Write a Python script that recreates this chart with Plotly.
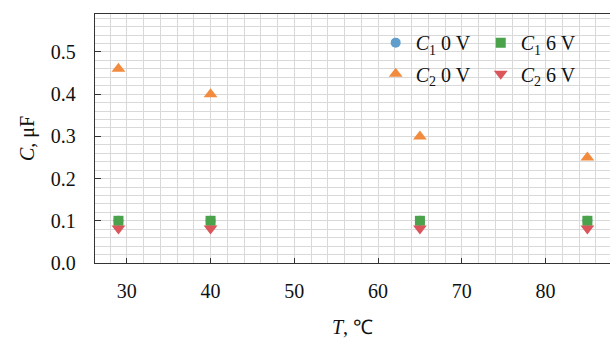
import plotly.graph_objects as go

# Temperature points, °C
temperature = [29, 40, 65, 85]

# Capacitance, µF
c1_0v = [0.10, 0.10, 0.10, 0.10]
c2_0v = [0.46, 0.40, 0.30, 0.25]
c1_6v = [0.10, 0.10, 0.10, 0.10]
c2_6v = [0.082, 0.082, 0.082, 0.082]

x_ticks = [30, 40, 50, 60, 70, 80]
y_ticks = [0.0, 0.1, 0.2, 0.3, 0.4, 0.5]

FONT = "Liberation Serif"
SPINE = "#333333"
GRID = "#d9d9d9"

series = [
    ("<i>C</i><sub>1</sub> 0 V", c1_0v, "circle", 10, "#5f9dcc", "legend"),
    ("<i>C</i><sub>2</sub> 0 V", c2_0v, "triangle-up", 12, "#f28b3d", "legend2"),
    ("<i>C</i><sub>1</sub> 6 V", c1_6v, "square", 10, "#4aa24a", "legend3"),
    ("<i>C</i><sub>2</sub> 6 V", c2_6v, "triangle-down", 12, "#da565a", "legend4"),
]

fig = go.Figure()
for name, vals, sym, size, color, leg in series:
    fig.add_trace(go.Scatter(
        x=temperature, y=vals, mode="markers", name=name, legend=leg,
        marker=dict(symbol=sym, size=size, color=color, line=dict(width=0)),
    ))

legend_style = dict(
    bgcolor="rgba(0,0,0,0)", font=dict(family=FONT, size=20, color="#111"),
    xanchor="left", yanchor="middle", itemclick=False, borderwidth=0,
)

fig.update_layout(
    width=610, height=340,
    margin=dict(l=95, r=0, t=14, b=77),
    plot_bgcolor="white", paper_bgcolor="white",
    font=dict(family=FONT, size=20, color="#111"),
    showlegend=True,
    legend=dict(x=0.545, y=0.885, **legend_style),
    legend2=dict(x=0.545, y=0.76, **legend_style),
    legend3=dict(x=0.749, y=0.885, **legend_style),
    legend4=dict(x=0.749, y=0.76, **legend_style),
    xaxis=dict(
        range=[26.2, 87.7], tickvals=x_ticks, ticks="inside", ticklen=5,
        tickwidth=1.3, tickcolor=SPINE, showline=True, linecolor=SPINE,
        linewidth=1.3, mirror=True, showgrid=True, gridcolor=GRID, gridwidth=1.2,
        zeroline=False, ticklabelstandoff=10,
        tickfont=dict(family=FONT, size=20, color="#111"),
        minor=dict(dtick=2, tick0=0, showgrid=True, gridcolor=GRID, gridwidth=1.2),
        title=dict(text="<i>T</i>, ℃", font=dict(family=FONT, size=20), standoff=18),
    ),
    yaxis=dict(
        range=[0, 0.59], tickvals=y_ticks, tickformat=".1f", ticks="inside",
        ticklen=6, tickwidth=1.3, tickcolor=SPINE, showline=True,
        linecolor=SPINE, linewidth=1.3, mirror=True, showgrid=True,
        gridcolor=GRID, gridwidth=1.2, zeroline=False, ticklabelstandoff=14,
        tickfont=dict(family=FONT, size=20, color="#111"),
        minor=dict(dtick=0.02, tick0=0, showgrid=True, gridcolor=GRID, gridwidth=1.2),
        title=dict(text="<i>C</i>, μF", font=dict(family=FONT, size=20), standoff=10),
    ),
)

fig.write_html("out.html")
